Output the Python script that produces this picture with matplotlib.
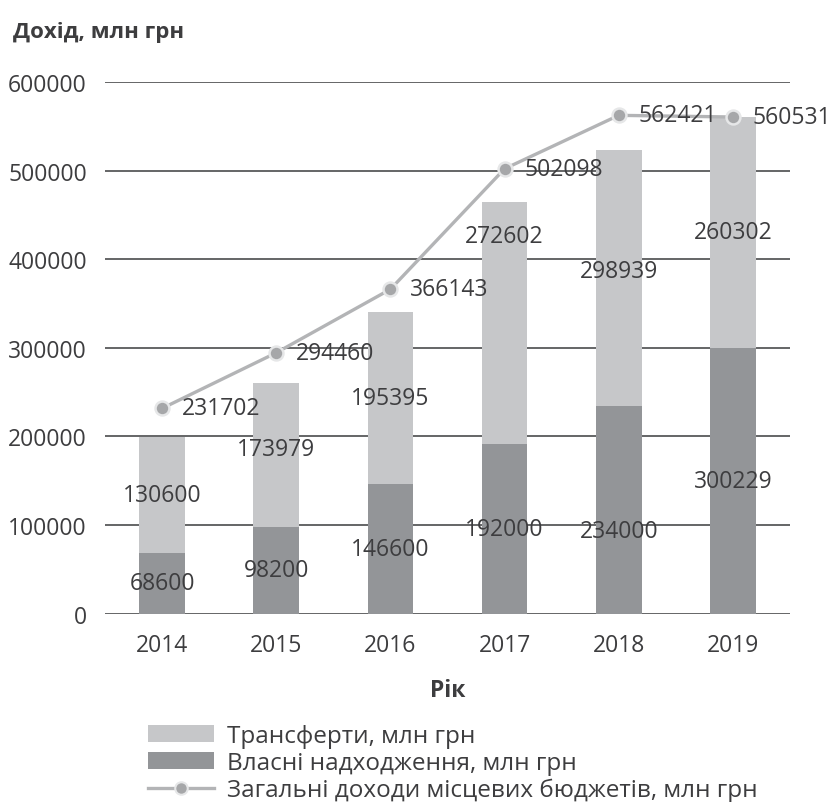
import matplotlib
matplotlib.use("Agg")
import matplotlib.pyplot as plt
from matplotlib.lines import Line2D
from matplotlib.patches import Patch

# -----------------------------
# Data
# -----------------------------
years = ["2014", "2015", "2016", "2017", "2018", "2019"]
own_revenue = [68600, 98200, 146600, 192000, 234000, 300229]
transfers_bar = [130600, 162000, 194000, 272600, 289300, 260302]   # bar heights as drawn
transfers_labels = [130600, 173979, 195395, 272602, 298939, 260302]
total_revenue = [231702, 294460, 366143, 502098, 562421, 560531]

# label nudges (pixels), positions only
transfer_label_dy = [0, 6, 0, 87, 7, 0]
own_label_dy = [0, 0, 0, 0, -21, 0]

plt.rcParams['font.family'] = ['Open Sans', 'DejaVu Sans']
text_color = "#3d3d3f"
light = "#c6c7c9"
dark = "#939598"
line_color = "#b3b4b6"

fig = plt.figure(figsize=(8.32, 8.03), dpi=100)
ax = fig.add_axes([0.1262, 0.2345, 0.8233, 0.6621])

x = list(range(len(years)))
ax.bar(x, own_revenue, width=0.4, color=dark, zorder=2)
ax.bar(x, transfers_bar, width=0.4, bottom=own_revenue, color=light, zorder=2)
ax.plot(x, total_revenue, color=line_color, lw=2.4, marker='o', ms=10,
        mfc="#a6a7a9", mec="#e6e7e8", mew=1.8, zorder=4)

# -----------------------------
# Value labels
# -----------------------------
for i in x:
    ax.annotate(str(own_revenue[i]), (i, own_revenue[i] / 2), xytext=(0, own_label_dy[i]),
                textcoords='offset pixels', ha='center', va='center',
                fontsize=16.5, color=text_color, zorder=5)
    mid = own_revenue[i] + transfers_bar[i] / 2
    ax.annotate(str(transfers_labels[i]), (i, mid), xytext=(0, transfer_label_dy[i]),
                textcoords='offset pixels', ha='center', va='center',
                fontsize=16.5, color=text_color, zorder=5)
    ax.annotate(str(total_revenue[i]), (i, total_revenue[i]), xytext=(20, 0),
                textcoords='offset pixels', ha='left', va='center',
                fontsize=16.5, color=text_color, zorder=5)

# -----------------------------
# Axes styling
# -----------------------------
ax.set_xlim(-0.5, 5.5)
ax.set_ylim(0, 600000)
ax.set_yticks(range(0, 600001, 100000))
ax.set_xticks(x)
ax.set_xticklabels(years)
ax.yaxis.grid(True, color="#58595b", lw=1.3)
ax.set_axisbelow(True)
for s in ax.spines.values():
    s.set_visible(False)
ax.tick_params(axis='both', length=0, labelsize=16.5, labelcolor=text_color)
ax.tick_params(axis='y', pad=13)
ax.tick_params(axis='x', pad=14)
ax.set_xlabel("Рік", fontsize=16.5, fontweight='bold', color=text_color, labelpad=15)

fig.text(0.016, 0.96, "Дохід, млн грн", fontsize=16, fontweight='bold',
         color=text_color, ha='left', va='center')

# -----------------------------
# Legend
# -----------------------------
handles = [
    Patch(facecolor=light, edgecolor='none'),
    Patch(facecolor=dark, edgecolor='none'),
    Line2D([0], [0], color=line_color, lw=2.4, marker='o', ms=9,
           mfc="#a6a7a9", mec="#e6e7e8", mew=1.5),
]
labels = ["Трансферти, млн грн", "Власні надходження, млн грн",
          "Загальні доходи місцевих бюджетів, млн грн"]
leg = fig.legend(handles, labels, loc='upper left', bbox_to_anchor=(0.178, 0.097),
                 bbox_transform=fig.transFigure, frameon=False, fontsize=17.5,
                 handlelength=2.7, handleheight=0.65, handletextpad=0.55,
                 labelspacing=0.12, borderaxespad=0, borderpad=0)
for t in leg.get_texts():
    t.set_color(text_color)

fig.savefig("out.png", dpi=100)
